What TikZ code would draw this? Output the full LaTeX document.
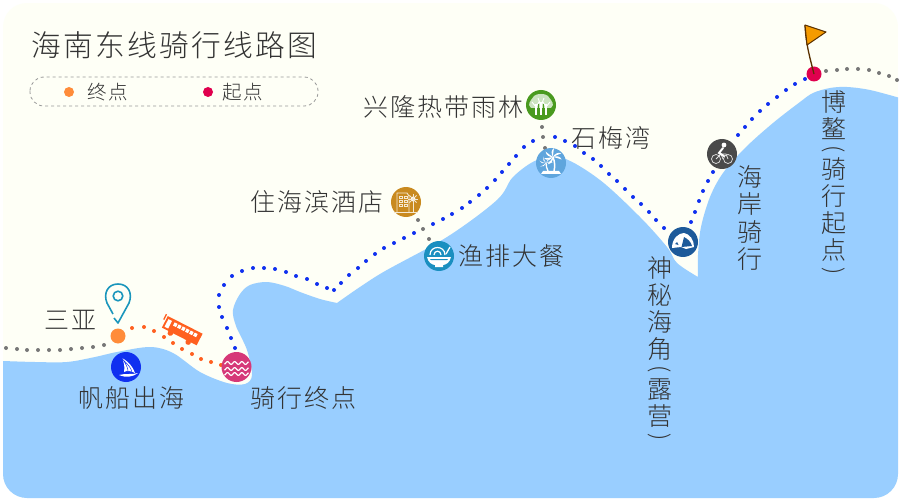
\documentclass[tikz,border=0pt]{standalone}
\usepackage{fontspec}
\setmainfont{Noto Sans CJK SC Light}[LetterSpace=8]
\newfontfamily\cnv{Noto Sans CJK SC Light}
\newcommand{\vopen}{\smash{\raisebox{13.5pt}{\rotatebox{-90}{\fontsize{23}{23}\selectfont (}}}}
\newcommand{\vclose}{\smash{\raisebox{11.5pt}{\rotatebox{-90}{\fontsize{23}{23}\selectfont )}}}}
\definecolor{card}{HTML}{FEFFF6}
\definecolor{sea}{HTML}{99CEFF}
\definecolor{ink}{HTML}{333333}
\definecolor{routeb}{HTML}{1030F0}
\definecolor{routeg}{HTML}{777777}
\definecolor{routeo}{HTML}{FF6020}
\definecolor{pinc}{HTML}{1A96BC}
\definecolor{endc}{HTML}{FF8C3A}
\definecolor{startc}{HTML}{E0004E}
\definecolor{boatc}{HTML}{1030F0}
\definecolor{finishc}{HTML}{D63878}
\definecolor{bowlc}{HTML}{1A8FC0}
\definecolor{hotelc}{HTML}{C98A1F}
\definecolor{forestc}{HTML}{4A9A1F}
\definecolor{palmc}{HTML}{5FA5DD}
\definecolor{tentc}{HTML}{1D5A9A}
\definecolor{bikec}{HTML}{4A4A4A}
\definecolor{polec}{HTML}{5A3000}
\definecolor{flagc}{HTML}{F59B00}
\tikzset{
  poi/.style={circle,minimum size=30pt,inner sep=0pt,fill=#1},
  endpt/.style={circle,minimum size=15pt,inner sep=0pt,fill=#1},
  keydot/.style={circle,minimum size=10pt,inner sep=0pt,fill=#1},
  lab/.style={text=ink,font=\fontsize{25}{27}\selectfont,inner sep=0pt},
  vlab/.style={text=ink,font=\cnv\fontsize{25}{27.3}\selectfont,inner sep=0pt,align=center,anchor=north},
  ico/.style={draw=white,line width=0.9pt,fill=none},
}
\begin{document}
\begin{tikzpicture}[x=1pt,y=-1pt]
\useasboundingbox (0,0) rectangle (900,500);
\fill[white] (0,0) rectangle (900,500);
\begin{scope}
\clip[rounded corners=24pt] (3,3) rectangle (898,498);
\fill[card] (3,3) rectangle (898,498);
\fill[sea] plot[smooth,tension=0.55] coordinates {(3,361)(35,362)(67,362)(95,357)(117,352)(150,347)(173,353)(200,372)(227,383)(245,384)(252,375)(247,350)(236,326)(233,310)(240,294)(250,285)(267,282)(285,286)(300,292)(320,299)(337,303)}
 -- plot[smooth,tension=0.55] coordinates {(337,303)(380,274)(447,237)(497,200)(513,177)(537,160)(563,158)(600,180)(640,217)(667,247)(677,263)(698,277)}
 -- plot[smooth,tension=0.55] coordinates {(698,277)(698,255)(701,227)(710,197)(723,173)(745,148)(773,123)(800,102)(813,93)(830,88)(847,87)(870,90)(900,98)}
 -- (900,500) -- (0,500) -- (0,361) -- cycle;
\end{scope}
% routes
\foreach \p in {(6,348),(17,349),(27,350),(38,350),(49,350),(60,350),(71,349),(82,348),(93,347),(104,345),(826,71),(837,70),(847,69),(858,69),(869,70),(879,73),(889,76),(897,80),(542,127),(543,137),(545,148),(418,220),(423,229),(429,239)}
  \fill[routeg] \p circle (2);
\foreach \p in {(235,348),(231,338),(227,328),(222,317),(219,307),(219,295),(224,285),(232,276),(242,271),(253,268),(264,268),(275,269),(286,272),(296,276),(307,279),(317,284),(327,288),(334,290),(341,283),(349,275),(358,268),(366,261),(375,254),(384,248),(394,243),(404,238),(414,233),(433,224),(443,219),(452,214),(462,208),(470,202),(479,195),(487,188),(495,180),(502,172),(509,164),(516,156),(524,147),(533,141),(555,137),(565,141),(575,146),(584,153),(593,159),(601,166),(609,174),(617,181),(625,189),(633,197),(641,204),(649,212),(656,220),(664,228),(691,222),(695,212),(699,201),(703,191),(708,181),(713,172),(738,135),(745,127),(752,119),(760,111),(768,104),(777,97),(786,90),(795,84),(805,79)}
  \fill[routeb] \p circle (2);
\foreach \p in {(132,328),(144,327),(154,331),(164,337),(173,343),(182,349),(192,354),(201,359),(211,362),(221,365)}
  \fill[routeo] \p circle (2);
% stops
\node[endpt=endc] (sanya) at (118,336) {};
\node[endpt=startc] (start) at (814,74) {};
\node[poi=boatc] (boat) at (126,367) {};
\node[poi=finishc] (finish) at (236.5,367) {};
\node[poi=bowlc] (bowl) at (439,256) {};
\node[poi=hotelc] (hotel) at (406,202) {};
\node[poi=forestc] (forest) at (541,105) {};
\node[poi=palmc] (palm) at (551,163) {};
\node[poi=tentc] (tent) at (683,242) {};
\node[poi=bikec] (bike) at (722,154) {};
% flag
\coordinate (flagtop) at (805,25);
\draw[line width=1.3pt,draw=polec] (start.center) .. controls (810,58) and (806,45) .. (flagtop);
\draw[line width=1pt,draw=polec,fill=flagc,line join=round] (flagtop) -- (826,32) -- (807,45) -- cycle;
% pin
\coordinate (pintip) at (118,323);
\draw[pinc,line width=1.6pt,line join=round] (113,314) -- (107,303) .. controls (103,293) and (108,284) .. (118,284) .. controls (128,284) and (133,293) .. (129,303) -- (pintip) -- (114,318);
\draw[pinc,line width=1.6pt] (118,296) circle (4.8);
% bus
\begin{scope}[shift={(182,330)},rotate=-27]
\fill[routeo] (-19,-6) rectangle (20,7);
\foreach \x in {-10,-5.5,...,15} \fill[white] (\x,-3.5) rectangle ++(3.3,3.6);
\fill[white] (-17,-3.5) rectangle (-13,5);
\draw[routeo,line width=1.4pt] (-21,-7) -- (-21,-1);
\fill[routeo] (-9,8) circle (2.8) (11,8) circle (2.8);
\end{scope}
% boat icon
\begin{scope}[shift={(126,367)}]
\fill[white] (-4,-9) .. controls (3,-5) and (7,0) .. (9,6) .. controls (5,4) and (1,3) .. (-2,5) .. controls (-1,0) and (-2,-5) .. (-4,-9) -- cycle;
\draw[draw=boatc,line width=0.5pt] (-4,-9) .. controls (0,-3) and (2,1) .. (2,4) (-4,-8) .. controls (2,-3) and (5,1) .. (6,5);
\fill[white] (-7,8) .. controls (0,6) and (6,8) .. (12,6) .. controls (7,10) and (0,11) .. (-7,8) -- cycle;
\end{scope}
% waves
\foreach \d in {-4,2,7}
  \draw[white,line width=1.2pt] plot[domain=-12:12,samples=40,smooth] ({236.5+\x},{367+\d+1.4*sin(\x*50)});
% bowl icon
\begin{scope}[shift={(439,256)}]
\fill[white] (-12,1) -- (12,1) .. controls (11,7) and (6,9) .. (4,9) -- (4,11) -- (-4,11) -- (-4,9) .. controls (-6,9) and (-11,7) .. (-12,1) -- cycle;
\fill[bowlc] (-9,3) -- (9,3) -- (8,4.2) -- (-8,4.2) -- cycle;
\draw[white,line width=1.2pt] (-9,-1) .. controls (-9,-11) and (6,-11) .. (6,-1);
\draw[white,line width=1.2pt] (-5,-1) .. controls (-5,-6) and (2,-6) .. (2,-1);
\draw[white,line width=1.3pt] (7,-2) -- (11,-9);
\end{scope}
% hotel icon
\begin{scope}[shift={(406,202)}]
\draw[ico,draw=white!80!hotelc] (-9,10) -- (-9,-9) -- (1,-9) -- (3,-6) -- (3,10);
\foreach \y in {-6,-2,2} {\draw[white!80!hotelc,line width=0.7pt] (-7,\y) rectangle ++(3,2.6) (-2,\y) rectangle ++(3,2.6);}
\draw[white!80!hotelc,line width=0.8pt] (-12,10) -- (12,10) (7,10) -- (7,-2);
\fill[white] (7,-3) circle (2.4);
\foreach \a in {0,45,...,315} \draw[white!80!hotelc,line width=0.8pt] (7,-3) -- ++(\a:5);
\end{scope}
% forest icon
\begin{scope}[shift={(541,105)}]
\fill[white!72!forestc] (0,-11) .. controls (7,-11) and (8,-8) .. (10,-5) .. controls (13,-1) and (12,2) .. (10,3) -- (-10,3) .. controls (-12,2) and (-13,-1) .. (-10,-5) .. controls (-8,-8) and (-7,-11) .. (0,-11) -- cycle;
\draw[white,line width=1.6pt] (-5,-1) -- (-5,10) (0,-3) -- (0,10) (5,-1) -- (5,10);
\draw[white,line width=0.9pt] (-5,2) -- (-9,-3) (-5,2) -- (-2,-3) (0,1) -- (-3,-7) (0,1) -- (3,-7) (5,2) -- (2,-3) (5,2) -- (9,-3);
\draw[forestc,line width=0.4pt] (-2.5,-1) -- (-2.5,5) (2.5,-1) -- (2.5,5);
\end{scope}
% palm icon
\begin{scope}[shift={(551,163)}]
\draw[white,line width=1.5pt] (2,-6) .. controls (4,-1) and (4,4) .. (3,8);
\draw[white,line width=1.3pt] (-5,0) .. controls (-5,3) and (-4,6) .. (-3,8);
\foreach \a in {-10,30,90,150,195,240} \fill[white,rotate around={\a:(2,-6)}] (2,-6) .. controls (5,-8) and (9,-8) .. (11,-5) .. controls (8,-6) and (5,-5.5) .. (2,-6) -- cycle;
\foreach \a in {0,40,110,160,210} \fill[white,rotate around={\a:(-5,0)}] (-5,0) .. controls (-3,-2) and (0,-2) .. (2,0) .. controls (0,-1) and (-3,-0.5) .. (-5,0) -- cycle;
\fill[white] (-8,8) -- (8,8) -- (10,11) -- (-10,11) -- cycle;
\end{scope}
% tent icon
\begin{scope}[shift={(683,242)}]
\fill[white] (-11,6) .. controls (-11,-4) and (-4,-9) .. (1,-9) .. controls (7,-8) and (11,-2) .. (11,5) -- (3,7) -- (-2,5) -- cycle;
\fill[tentc] (1,-5) -- (-1.5,5) -- (9,4) .. controls (8,0) and (5,-3) .. (1,-5) -- cycle;
\fill[tentc] (-6,0) -- (-8,2) -- (-4.5,3) -- cycle;
\end{scope}
% bike icon
\begin{scope}[shift={(722,154)}]
\draw[white!85!bikec,line width=0.7pt] (-6,5) circle (4.5) (6,5) circle (4.5);
\draw[white!85!bikec,line width=0.8pt] (-6,5) -- (-1,0) -- (4,0) -- (6,5) (-1,0) -- (1,5);
\fill[white] (2,-9) circle (2.4);
\draw[white,line width=2pt,line cap=round] (1,-6) -- (-3,-1) -- (2,2);
\end{scope}
% labels
\node[text=ink,font=\fontsize{29.7}{31}\selectfont,inner sep=0pt] (title) at (174.5,45) {海南东线骑行线路图};
\draw[dashed,draw=gray!80,line width=0.8pt,rounded corners=14pt] (30,77) rectangle (318,106);
\node[keydot=endc] (keyend) at (69,92) {};
\node[keydot=startc] (keystart) at (208,92) {};
\node[text=ink,font=\fontsize{19.5}{21}\selectfont,inner sep=0pt] (keyendt) at (108,92) {终点};
\node[text=ink,font=\fontsize{19.5}{21}\selectfont,inner sep=0pt] (keystartt) at (243,92) {起点};
\node[lab] (l1) at (70,320) {三亚};
\node[lab] (l2) at (131,398) {帆船出海};
\node[lab] (l3) at (303,398) {骑行终点};
\node[lab] (l4) at (511,256) {渔排大餐};
\node[lab] (l5) at (317,202) {住海滨酒店};
\node[lab] (l6) at (443,107) {兴隆热带雨林};
\node[lab] (l7) at (611,138) {石梅湾};
\node[vlab] (l8) at (660,256) {神\\秘\\海\\角\\[-7pt]\vopen\\[-8pt]露\\营\\[-8pt]\vclose};
\node[vlab] (l9) at (750,165.5) {海\\岸\\骑\\行};
\node[vlab] (l10) at (834,90) {博\\鳌\\[-7pt]\vopen\\[-8pt]骑\\行\\起\\点\\[-8pt]\vclose};
\end{tikzpicture}
\end{document}
